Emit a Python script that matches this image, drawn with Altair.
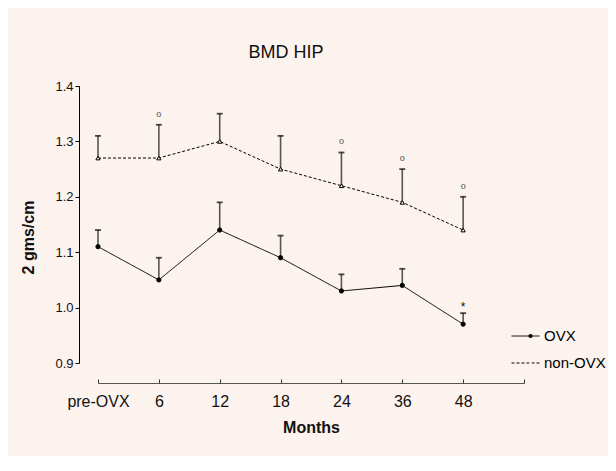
import altair as alt
import pandas as pd

# ---- data ----
months = ["pre-OVX", "6", "12", "18", "24", "36", "48"]
ovx_mean = [1.11, 1.05, 1.14, 1.09, 1.03, 1.04, 0.97]
ovx_upper = [1.14, 1.09, 1.19, 1.13, 1.06, 1.07, 0.99]
non_mean = [1.27, 1.27, 1.30, 1.25, 1.22, 1.19, 1.14]
non_upper = [1.31, 1.33, 1.35, 1.31, 1.28, 1.25, 1.20]
ovx_marks = ["", "", "", "", "", "", "*"]
non_marks = ["", "o", "", "", "o", "o", "o"]
series_names = ["OVX", "non-OVX"]
y_ticks = [0.9, 1.0, 1.1, 1.2, 1.3, 1.4]

rows = []
for name, means, uppers, marks in [
    (series_names[0], ovx_mean, ovx_upper, ovx_marks),
    (series_names[1], non_mean, non_upper, non_marks),
]:
    for i, lab in enumerate(months):
        rows.append({"idx": i, "month": lab, "series": name, "group": name,
                     "mean": means[i], "upper": uppers[i], "mark": marks[i]})
df = pd.DataFrame(rows)

BG = "#fdf3ee"
FONT = "Liberation Sans"

n_slots = len(months) + 1
xscale = alt.Scale(domain=[0, len(months)], nice=False, zero=False)
label_array = "[" + ",".join("'" + m + "'" for m in months) + "]"

x_plain = alt.X("idx:Q", scale=xscale, axis=None)
x_tick_axis = alt.X("idx:Q", scale=xscale, axis=alt.Axis(
    orient="bottom", offset=16, values=list(range(n_slots)), tickSize=4,
    tickColor="#333", tickWidth=1, domain=False, labels=False, title=None, grid=False))
x_main_axis = alt.X("idx:Q", scale=xscale, axis=alt.Axis(
    orient="bottom", offset=20, values=list(range(len(months))), ticks=False, tickSize=0,
    domain=True, domainColor="#555", domainWidth=1,
    labelExpr=label_array + "[datum.value]", labelFontSize=16, labelPadding=10,
    labelColor="#111", labelFont=FONT, labelFlush=False, labelOverlap=False,
    title="Months", titleFontSize=16, titleFontWeight="bold", titleFont=FONT,
    titleColor="#111", titlePadding=10, grid=False))

yscale = alt.Scale(domain=[0.9, 1.4], nice=False, zero=False)
yaxis = alt.Axis(values=y_ticks, format=".1f", offset=19, tickSize=4, tickColor="black",
                 domainColor="black", labelFontSize=13, labelPadding=2, labelFont=FONT,
                 labelColor="#111", title="2 gms/cm", titleFontSize=16, titleFont=FONT,
                 titleFontWeight="bold", titleColor="#111", titlePadding=18, titleY=151,
                 grid=False)

def Y(field):
    return alt.Y(field + ":Q", scale=yscale, axis=yaxis)

base = alt.Chart(df)

stems = base.mark_rule(color="#555", strokeWidth=1.6).encode(
    x=x_tick_axis, y=Y("mean"), y2="upper:Q")
caps = base.mark_tick(orient="horizontal", size=6, thickness=1.8, color="black").encode(
    x=x_main_axis, y=Y("upper"))

line_legend = alt.Legend(orient="none", legendX=413, legendY=242, title=None,
                         symbolType="stroke", symbolSize=784, symbolStrokeWidth=1,
                         symbolStrokeColor="black", labelFontSize=15, labelFont=FONT,
                         labelColor="black", labelOffset=4, clipHeight=16,
                         rowPadding=11, padding=0)
lines = base.mark_line(color="black", strokeWidth=1).encode(
    x=x_plain, y=Y("mean"),
    strokeDash=alt.StrokeDash("series:N", scale=alt.Scale(domain=series_names,
                              range=[[1, 0], [3, 2]]), legend=line_legend))

pt_legend = alt.Legend(orient="none", legendX=425, legendY=242, title=None,
                       symbolSize=18, symbolStrokeColor="black", symbolStrokeWidth=1,
                       labelExpr="''", labelFontSize=15, clipHeight=16,
                       rowPadding=11, padding=0)
points = base.mark_point(filled=True, stroke="black", strokeWidth=1, opacity=1, size=18).encode(
    x=x_plain, y=Y("mean"),
    shape=alt.Shape("group:N", scale=alt.Scale(range=["circle", "triangle-up"]), legend=pt_legend),
    fill=alt.Fill("group:N", scale=alt.Scale(range=["black", BG]), legend=pt_legend))

o_text = base.transform_filter(
    (alt.datum.series == series_names[1]) & (alt.datum.mark != "")
).mark_text(font="Liberation Serif", fontSize=10, color="#555", baseline="middle", dy=-11).encode(
    x=x_plain, y=Y("upper"), text="mark:N")
star_text = base.transform_filter(
    (alt.datum.series == series_names[0]) & (alt.datum.mark != "")
).mark_text(font=FONT, fontSize=12, color="#111", baseline="middle", dy=-6).encode(
    x=x_plain, y=Y("upper"), text="mark:N")

chart = alt.layer(stems, caps, lines, points, o_text, star_text).resolve_axis(
    x="independent"
).properties(
    width=426, height=277,
    background=BG,
    autosize=alt.AutoSizeParams(type="none"),
    padding={"left": 90, "top": 78, "right": 84, "bottom": 93},
    title=alt.TitleParams("BMD HIP", fontSize=18, font=FONT, fontWeight="normal",
                          color="#111", offset=18, dx=-25, anchor="middle"),
).configure_view(stroke=None)

chart.save("out.html", embed_options={"renderer": "svg", "actions": False})
